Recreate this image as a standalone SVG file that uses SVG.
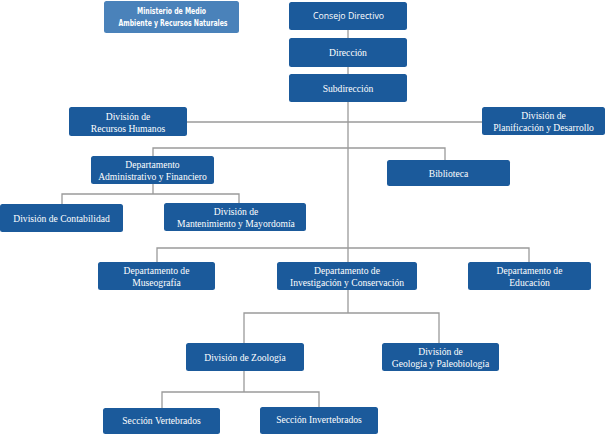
<svg xmlns="http://www.w3.org/2000/svg" width="606" height="434" viewBox="0 0 606 434">
<style>
.box{fill:#1b5a9b;}
.min{fill:#4a82ba;}
.t{font-family:"Liberation Serif","DejaVu Serif",serif;font-size:9.6px;fill:#ffffff;text-anchor:middle;}
.s{font-family:"Open Sans","Liberation Sans",sans-serif;font-size:9px;fill:#ffffff;text-anchor:middle;}
.m{font-family:"DejaVu Sans Condensed","Liberation Sans",sans-serif;font-size:9px;font-weight:bold;fill:#ffffff;text-anchor:middle;}
.c{stroke:#9a9a9a;stroke-width:1.3;fill:none;}
</style>
<rect width="606" height="434" fill="#ffffff"/>
<g id="connectors">
<path class="c" d="M348 30V290M348 290V313"/>
<path class="c" d="M187 122H482"/>
<path class="c" d="M153 156V148H445V160"/>
<path class="c" d="M153 184V194M62 204V194H239V203"/>
<path class="c" d="M157 262V248H529V262"/>
<path class="c" d="M244 343V313H439V343"/>
<path class="c" d="M244 371V392M162 408V392H319V407"/>
</g>
<g id="ministerio"><rect class="min" x="104" y="1" width="135" height="32" rx="2.5"/>
<text class="m" x="171.5" y="14" textLength="69" lengthAdjust="spacingAndGlyphs">Ministerio de Medio</text>
<text class="m" x="173" y="25.5" textLength="109" lengthAdjust="spacingAndGlyphs">Ambiente y Recursos Naturales</text></g>
<g id="consejo"><rect class="box" x="289" y="2" width="118" height="28" rx="2.5"/>
<text class="s" x="348.5" y="19" textLength="71" lengthAdjust="spacingAndGlyphs">Consejo Directivo</text></g>
<g id="direccion"><rect class="box" x="289" y="38" width="118" height="29" rx="2.5"/>
<text class="t" x="348" y="55.5">Dirección</text></g>
<g id="subdireccion"><rect class="box" x="289" y="74" width="118" height="28" rx="2.5"/>
<text class="t" x="348" y="91.5">Subdirección</text></g>
<g id="rrhh"><rect class="box" x="69" y="107" width="118" height="29" rx="2.5"/>
<text class="t" x="128" y="119.5">División de</text>
<text class="t" x="128" y="131.5">Recursos Humanos</text></g>
<g id="planificacion"><rect class="box" x="482" y="107" width="123" height="28" rx="2.5"/>
<text class="t" x="543.5" y="119">División de</text>
<text class="t" x="543.5" y="131">Planificación y Desarrollo</text></g>
<g id="administrativo"><rect class="box" x="91" y="156" width="123" height="28" rx="2.5"/>
<text class="t" x="152.5" y="168">Departamento</text>
<text class="t" x="152.5" y="180">Administrativo y Financiero</text></g>
<g id="biblioteca"><rect class="box" x="387" y="160" width="123" height="26" rx="2.5"/>
<text class="t" x="448.5" y="176.5">Biblioteca</text></g>
<g id="contabilidad"><rect class="box" x="0" y="204" width="123" height="28" rx="2.5"/>
<text class="t" x="61.5" y="221.5">División de Contabilidad</text></g>
<g id="mantenimiento"><rect class="box" x="164" y="203" width="142" height="28" rx="2.5"/>
<text class="t" x="236" y="215">División de</text>
<text class="t" x="236" y="227">Mantenimiento y Mayordomía</text></g>
<g id="museografia"><rect class="box" x="98" y="262" width="117" height="28" rx="2.5"/>
<text class="t" x="156.5" y="274">Departamento de</text>
<text class="t" x="156.5" y="286">Museografía</text></g>
<g id="investigacion"><rect class="box" x="277" y="262" width="140" height="28" rx="2.5"/>
<text class="t" x="347" y="274">Departamento de</text>
<text class="t" x="347" y="286">Investigación y Conservación</text></g>
<g id="educacion"><rect class="box" x="468" y="262" width="123" height="28" rx="2.5"/>
<text class="t" x="529.5" y="274">Departamento de</text>
<text class="t" x="529.5" y="286">Educación</text></g>
<g id="zoologia"><rect class="box" x="186" y="343" width="118" height="28" rx="2.5"/>
<text class="t" x="245" y="360.5">División de Zoología</text></g>
<g id="geologia"><rect class="box" x="382" y="343" width="117" height="28" rx="2.5"/>
<text class="t" x="440.5" y="355">División de</text>
<text class="t" x="440.5" y="367">Geología y Paleobiología</text></g>
<g id="vertebrados"><rect class="box" x="103" y="408" width="117" height="26" rx="2.5"/>
<text class="t" x="161.5" y="423.5">Sección Vertebrados</text></g>
<g id="invertebrados"><rect class="box" x="260" y="407" width="118" height="27" rx="2.5"/>
<text class="t" x="319" y="423">Sección Invertebrados</text></g>
</svg>
